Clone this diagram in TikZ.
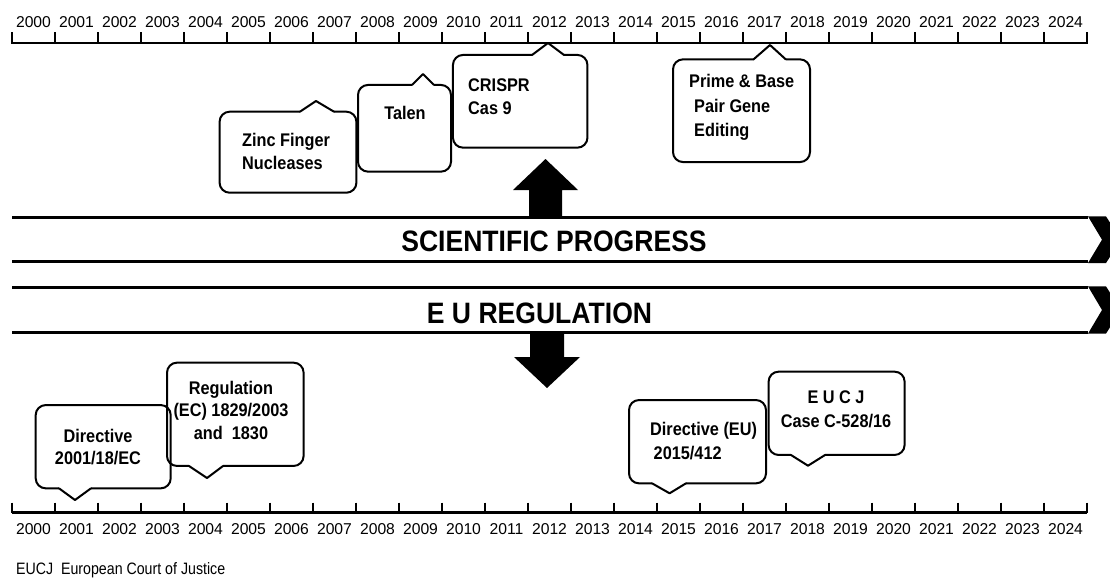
\documentclass[tikz,border=0pt]{standalone}
\usepackage{fontspec}
\setmainfont{Liberation Sans}
\newfontfamily\bandfont[FakeStretch=0.9]{Liberation Sans}
\newfontfamily\boxfont[FakeStretch=0.89]{Liberation Sans}
\newfontfamily\notefont[FakeStretch=0.86]{Liberation Sans}
\tikzset{
  boxline/.style={line width=2pt, line cap=round, line join=round},
  callbox/.style={draw, line width=2pt, rounded corners=10pt, inner sep=0pt},
  boxtext/.style={font=\boxfont\bfseries\fontsize{18.3}{23}\selectfont, inner sep=0pt},
  yeartext/.style={font=\fontsize{15.7}{18}\selectfont, inner sep=0pt},
  bandline/.style={line width=2.5pt},
  bandtext/.style={font=\bandfont\bfseries\fontsize{29.5}{30}\selectfont, inner sep=0pt},
  axisline/.style={line width=2.5pt},
  tickline/.style={line width=2.8pt},
  blockarrow/.style={fill=black},
}
% pointer: base x1, base x2, base y, tip x, tip y
\newcommand\ptr[5]{%
  \fill[white] (#1,#3-1.6) rectangle (#2,#3+1.6);
  \draw[boxline] (#1,#3) -- (#4,#5) -- (#2,#3);
}
\begin{document}
\begin{tikzpicture}[x=1pt,y=-1pt]
\useasboundingbox (0,0) rectangle (1110,581);
\clip (0,0) rectangle (1110,581);

% ---------- top axis ----------
\draw[axisline] (12,43) -- (1087,43);
\foreach \k in {0,...,25} \draw[tickline] ({12+43*\k},32) -- ({12+43*\k},43.5);
\foreach \k in {0,...,24} {
  \pgfmathtruncatemacro\yr{2000+\k}
  \node[yeartext] (ty\k) at ({33.5+43*\k},22) {\yr};
}

% ---------- bottom axis ----------
\draw[axisline] (12,512.7) -- (1087,512.7);
\foreach \k in {0,...,25} \draw[tickline] ({12+43*\k},502.5) -- ({12+43*\k},513.2);
\foreach \k in {0,...,24} {
  \pgfmathtruncatemacro\yr{2000+\k}
  \node[yeartext] (by\k) at ({33.5+43*\k},529) {\yr};
}

% ---------- scientific callouts ----------
\node[callbox, minimum width=136.8, minimum height=81] (zinc) at (288,152.2) {};
\ptr{300}{334}{111.7}{316}{101}
\node[boxtext, anchor=west, align=left] (zinct) at (242,151.5) {Zinc Finger\\Nucleases};

\node[callbox, minimum width=93, minimum height=86.7] (talen) at (404.5,128.3) {};
\ptr{412}{434}{85}{423}{74}
\node[boxtext] (talent) at (405,113) {Talen};

\node[callbox, minimum width=134.5, minimum height=92.7] (crispr) at (520.2,101.3) {};
\ptr{532}{564}{55}{548}{43}
\node[boxtext, anchor=west, align=left] (crisprt) at (468,96.5) {CRISPR\\Cas 9};

\node[callbox, minimum width=137, minimum height=102.7] (prime) at (741.5,110.7) {};
\ptr{753.6}{785.7}{59.3}{770}{45}
\node[boxtext, anchor=west, align=left, font=\boxfont\bfseries\fontsize{18.3}{24.5}\selectfont] (primet) at (689,107.5)
  {Prime \& Base\\\hspace*{5pt}Pair Gene\\\hspace*{5pt}Editing};

% ---------- up arrow ----------
\fill[blockarrow] (529,218) -- (529,190) -- (513,190) -- (545.5,159) -- (578,190) -- (562,190) -- (562,218) -- cycle;

% ---------- bands ----------
\draw[bandline] (12,217.7) -- (1088,217.7);
\draw[bandline] (12,261.7) -- (1088,261.7);
\fill (1088,216.4) -- (1106,216.4) -- (1121,239.7) -- (1106,263) -- (1088,263) -- (1102,239.7) -- cycle;
\node[bandtext] (sci) at (554,241.7) {SCIENTIFIC PROGRESS};

\draw[bandline] (12,287.7) -- (1088,287.7);
\draw[bandline] (12,332.3) -- (1088,332.3);
\fill (1088,286.4) -- (1106,286.4) -- (1121,310) -- (1106,333.6) -- (1088,333.6) -- (1102,310) -- cycle;
\node[bandtext] (eu) at (539.5,313) {E U REGULATION};

% ---------- down arrow ----------
\fill[blockarrow] (530,332) -- (530,357) -- (514,357) -- (547,388) -- (580,357) -- (564,357) -- (564,332) -- cycle;

% ---------- regulation callouts ----------
\node[callbox, minimum width=135, minimum height=83.3] (dir) at (103.2,446.7) {};
\ptr{59}{91}{488.3}{75}{500}
\node[boxtext, align=center, font=\boxfont\bfseries\fontsize{18.3}{22.5}\selectfont] (dirt) at (98,447) {Directive\\2001/18/EC};

\node[callbox, minimum width=136.6, minimum height=103.3] (reg) at (235.3,414.3) {};
\ptr{189}{223}{466}{207}{478}
\node[boxtext, align=center, font=\boxfont\bfseries\fontsize{18.3}{22.5}\selectfont] (regt) at (231,410) {Regulation\\(EC) 1829/2003\\and\ \ 1830};

\node[callbox, minimum width=137, minimum height=83.3] (direu) at (697.5,441.7) {};
\ptr{652}{686}{483.3}{669.6}{493.3}
\node[boxtext, anchor=west, align=left, font=\boxfont\bfseries\fontsize{18.3}{24}\selectfont] (direut) at (650,441.3) {Directive (EU)\\\hspace*{3.5pt}2015/412};

\node[callbox, minimum width=136, minimum height=83.3] (eucj) at (836.6,413.3) {};
\ptr{791}{825}{455}{808}{465.7}
\node[boxtext, align=center, font=\boxfont\bfseries\fontsize{18.3}{24.5}\selectfont] (eucjt) at (836,409.5) {E U C J\\Case C-528/16};

% ---------- footnote ----------
\node[anchor=west, inner sep=0pt, font=\notefont\fontsize{16.5}{18}\selectfont] (note) at (16,570) {EUCJ\ \ European Court of Justice};
\end{tikzpicture}
\end{document}
